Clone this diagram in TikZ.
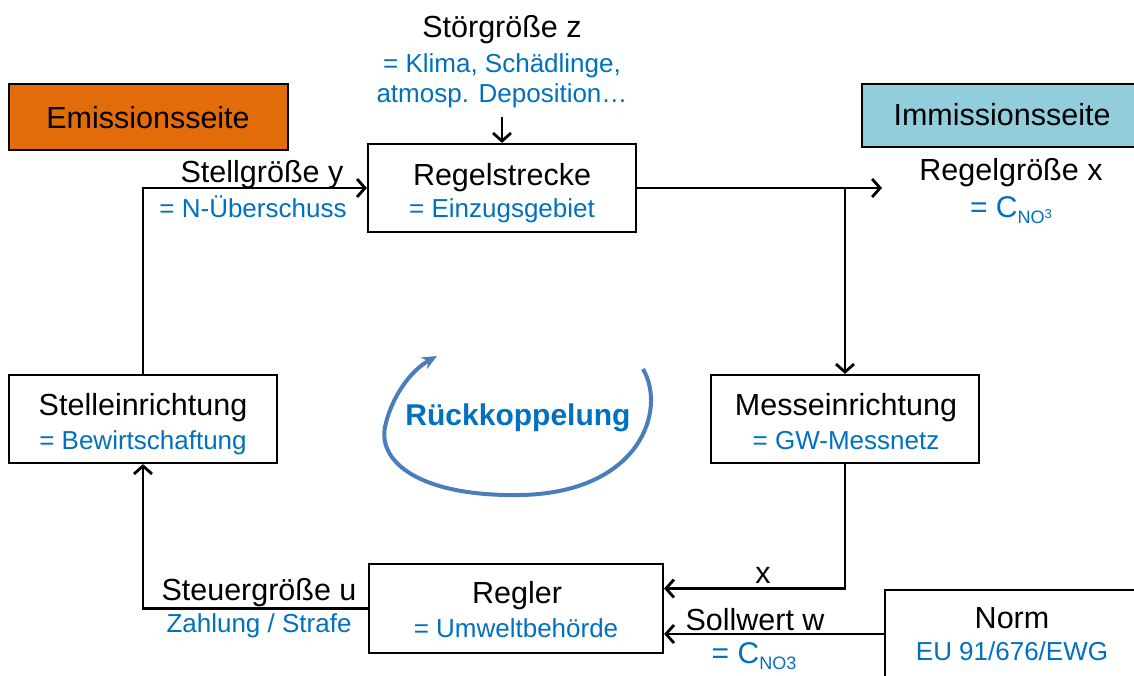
\documentclass[tikz,border=0pt]{standalone}
\usepackage{fontspec}
\setmainfont{Liberation Sans}
\usetikzlibrary{arrows.meta}
\definecolor{myblue}{HTML}{0070C0}
\definecolor{loopblue}{HTML}{4A7EBB}
\definecolor{emis}{HTML}{E36C0A}
\definecolor{immis}{HTML}{92CDDC}
\begin{document}
\begin{tikzpicture}[x=1pt,y=-1pt,
  box/.style={draw=black, line width=2.2pt},
  lbl/.style={font=\fontsize{30.5}{32}\selectfont, inner sep=0, anchor=base},
  sub/.style={font=\fontsize{26}{28}\selectfont, text=myblue, inner sep=0, anchor=base},
  conn/.style={line width=2.9pt, -{Straight Barb[length=8pt,width=18pt,line width=2.8pt]}}]
\useasboundingbox (0,0) rectangle (1134,675);
\clip (0,0) rectangle (1134,675);
% side boxes
\draw[box, line width=1.8pt, fill=emis] (9,84) rectangle (288,150);
\node[lbl] (emt) at (148,128) {Emissionsseite};
\draw[box, line width=1.8pt, fill=immis] (862,84) rectangle (1150,147);
\node[lbl] (imt) at (1002,125) {Immissionsseite};
% main boxes
\node[box, minimum width=268pt, minimum height=88pt, inner sep=0] (strecke) at (502,188) {};
\node[box, minimum width=268pt, minimum height=88pt, inner sep=0] (stell) at (143,419) {};
\node[box, minimum width=268pt, minimum height=88pt, inner sep=0] (mess) at (845,419) {};
\node[box, minimum width=294pt, minimum height=89pt, inner sep=0] (regler) at (516,608.5) {};
\draw[box] (1150,590) -- (885,590) -- (885,690);
\coordinate (norm) at (885,634);
% box texts
\node[lbl] (t1) at (502,185) {Regelstrecke};
\node[sub] (t1b) at (502,217) {= Einzugsgebiet};
\node[lbl] (t2) at (143,415) {Stelleinrichtung};
\node[sub] (t2b) at (143,449) {= Bewirtschaftung};
\node[lbl] (t3) at (846,415) {Messeinrichtung};
\node[sub] (t3b) at (846,449) {= GW-Messnetz};
\node[lbl] (t4) at (517,603) {Regler};
\node[sub] (t4b) at (516,637) {= Umweltbehörde};
\node[lbl] (t5) at (1012,628) {Norm};
\node[sub] (t5b) at (1012,660) {EU 91/676/EWG};
% free labels
\node[lbl] (z) at (502,37) {Störgröße z};
\node[sub] (z1) at (502,72) {= Klima, Schädlinge,};
\node[sub] (z2) at (502,102) {atmosp. Deposition…};
\coordinate (ztail) at (502,117);
\node[lbl] (y) at (262,182) {Stellgröße y};
\node[sub] (y1) at (253,217) {= N-Überschuss};
\node[lbl] (xr) at (1011,180) {Regelgröße x};
\node[sub, font=\fontsize{30}{32}\selectfont] (xr1) at (1011,217) {= C\raisebox{-6pt}{\fontsize{18}{18}\selectfont NO\raisebox{5pt}{\fontsize{13}{13}\selectfont 3}}};
\node[lbl] (u) at (259,600) {Steuergröße u};
\node[sub] (u1) at (259,632) {Zahlung / Strafe};
\node[lbl] (xl) at (763,583) {x};
\node[lbl] (w) at (755,630) {Sollwert w};
\node[sub, font=\fontsize{30}{32}\selectfont] (w1) at (754,663) {= C\raisebox{-6pt}{\fontsize{18}{18}\selectfont NO3}};
\node[font=\fontsize{30}{32}\selectfont\bfseries, text=myblue, inner sep=0, anchor=base] (rk) at (518,425) {Rückkoppelung};
% connectors
\coordinate (branch) at (845,188);
\coordinate (xend) at (882,188);
\draw[conn, line width=2.4pt] (ztail) -- (strecke.north);
\draw[conn] (stell.north) |- (strecke.west);
\draw[conn] (strecke.east) -- (xend);
\draw[conn] (branch) -- (mess.north);
\draw[conn] (mess.south) |- ([yshift=20pt]regler.east);
\draw[conn] (norm) -- (regler.east |- norm);
\draw[conn] (regler.west) -| (stell.south);
% feedback loop
\draw[loopblue, line width=4pt, -{Stealth[length=15pt,width=13pt]}]
  (643,369) .. controls (667,410) and (640,492) .. (522,495)
  .. controls (420,497) and (378,462) .. (385,427)
  .. controls (391,398) and (410,371) .. (437,356);
\end{tikzpicture}
\end{document}
